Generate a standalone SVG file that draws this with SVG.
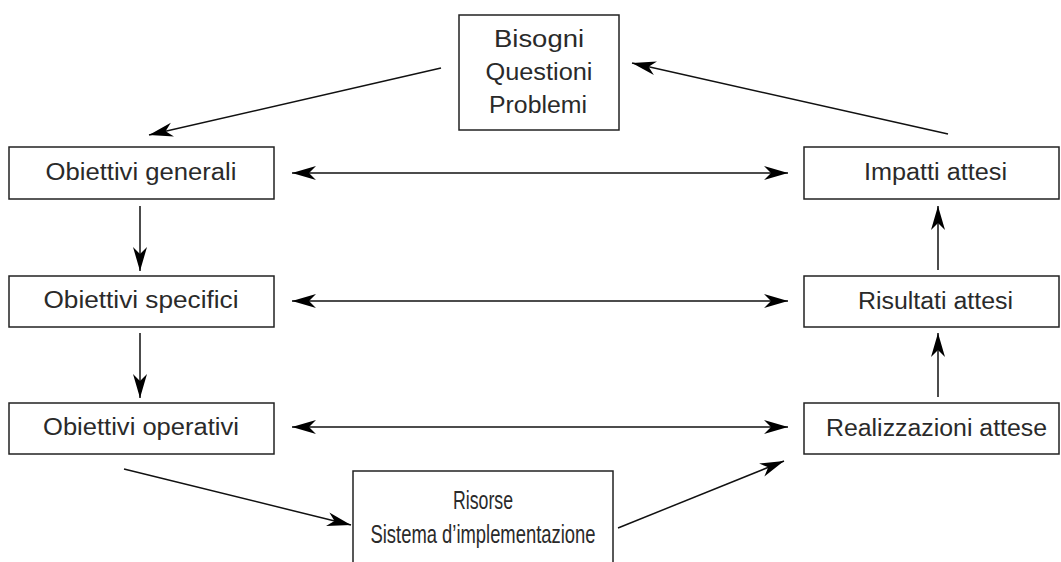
<svg xmlns="http://www.w3.org/2000/svg" width="1061" height="562" viewBox="0 0 1061 562">
<style>
.box{fill:#fff;stroke:#222;stroke-width:1.5}
.lbl{font-family:"Liberation Sans",Arial,sans-serif;font-size:23.5px;fill:#2a2a2a;text-anchor:middle}
.big{font-size:25px}
.cn{stroke:#111;stroke-width:1.5;fill:none}
</style>
<defs>
<marker id="ah" markerUnits="userSpaceOnUse" markerWidth="30" markerHeight="18" viewBox="-26 -9 30 18" refX="0" refY="0" orient="auto-start-reverse">
<path d="M0,0 L-24,-7 L-17,0 L-24,7 Z" fill="#000"/>
</marker>
</defs>
<rect width="1061" height="562" fill="#fff"/>
<g id="connectors">
<line class="cn" x1="441" y1="68" x2="149" y2="135" marker-end="url(#ah)"/>
<line class="cn" x1="948" y1="134" x2="632" y2="63" marker-end="url(#ah)"/>
<line class="cn" x1="292" y1="173" x2="788" y2="173" marker-start="url(#ah)" marker-end="url(#ah)"/>
<line class="cn" x1="292" y1="301" x2="788" y2="301" marker-start="url(#ah)" marker-end="url(#ah)"/>
<line class="cn" x1="292" y1="427" x2="788" y2="427" marker-start="url(#ah)" marker-end="url(#ah)"/>
<line class="cn" x1="140" y1="206" x2="140" y2="271" marker-end="url(#ah)"/>
<line class="cn" x1="140" y1="333" x2="140" y2="398" marker-end="url(#ah)"/>
<line class="cn" x1="938" y1="270" x2="938" y2="206" marker-end="url(#ah)"/>
<line class="cn" x1="938" y1="397" x2="938" y2="333" marker-end="url(#ah)"/>
<line class="cn" x1="124" y1="469" x2="351" y2="525" marker-end="url(#ah)"/>
<line class="cn" x1="618" y1="528" x2="784" y2="461" marker-end="url(#ah)"/>
</g>
<g id="bisogni">
<rect class="box" x="459" y="15" width="160" height="115"/>
<text class="lbl" x="539" y="47" textLength="90" lengthAdjust="spacingAndGlyphs">Bisogni</text>
<text class="lbl" x="539" y="80" textLength="107" lengthAdjust="spacingAndGlyphs">Questioni</text>
<text class="lbl" x="538" y="113" textLength="98" lengthAdjust="spacingAndGlyphs">Problemi</text>
</g>
<g id="obiettivi-generali">
<rect class="box" x="9" y="147" width="265" height="52"/>
<text class="lbl" x="141" y="180" textLength="191" lengthAdjust="spacingAndGlyphs">Obiettivi generali</text>
</g>
<g id="obiettivi-specifici">
<rect class="box" x="9" y="276" width="265" height="51"/>
<text class="lbl" x="141" y="308" textLength="195" lengthAdjust="spacingAndGlyphs">Obiettivi specifici</text>
</g>
<g id="obiettivi-operativi">
<rect class="box" x="9" y="403" width="265" height="51"/>
<text class="lbl" x="141" y="435" textLength="196" lengthAdjust="spacingAndGlyphs">Obiettivi operativi</text>
</g>
<g id="impatti-attesi">
<rect class="box" x="804" y="147" width="255" height="52"/>
<text class="lbl" x="935.5" y="180" textLength="143" lengthAdjust="spacingAndGlyphs">Impatti attesi</text>
</g>
<g id="risultati-attesi">
<rect class="box" x="804" y="276" width="255" height="51"/>
<text class="lbl" x="935.5" y="309" textLength="155" lengthAdjust="spacingAndGlyphs">Risultati attesi</text>
</g>
<g id="realizzazioni-attese">
<rect class="box" x="804" y="403" width="255" height="51"/>
<text class="lbl" x="936.5" y="436" textLength="221" lengthAdjust="spacingAndGlyphs">Realizzazioni attese</text>
</g>
<g id="risorse">
<rect class="box" x="353" y="471" width="260" height="110"/>
<text class="lbl big" x="483" y="509" textLength="60" lengthAdjust="spacingAndGlyphs">Risorse</text>
<text class="lbl big" x="483" y="543" textLength="225" lengthAdjust="spacingAndGlyphs">Sistema d’implementazione</text>
</g>
</svg>
